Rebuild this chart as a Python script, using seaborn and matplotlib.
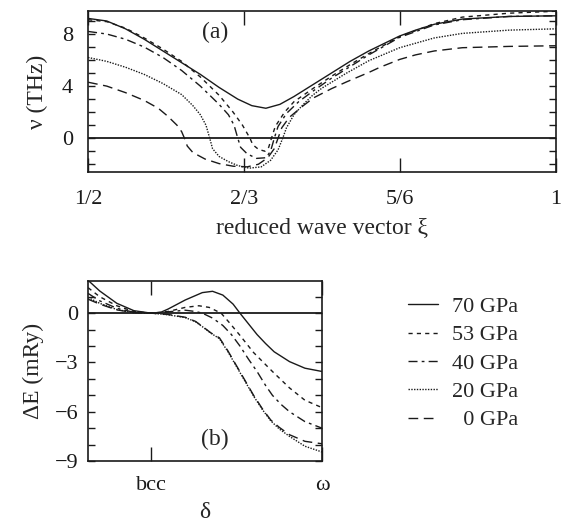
import numpy as np
import pandas as pd
import matplotlib
matplotlib.use('Agg')
import matplotlib.pyplot as plt
import seaborn as sns

# ---- data ----
pressures = ['70 GPa', '53 GPa', '40 GPa', '20 GPa', '0 GPa']

# (a) phonon dispersion nu(xi), negative = imaginary
xi_70 = [0.50, 0.52, 0.54, 0.56, 0.58, 0.60, 0.62, 0.64, 0.66, 0.675, 0.69, 0.705, 0.72, 0.74,
         0.76, 0.78, 0.80, 0.82, 0.833, 0.85, 0.87, 0.90, 0.95, 1.0]
nu_70 = [9.2, 9.0, 8.4, 7.6, 6.7, 5.8, 4.9, 3.9, 3.0, 2.5, 2.3, 2.6, 3.2, 4.1,
         5.0, 5.9, 6.7, 7.4, 7.85, 8.3, 8.75, 9.15, 9.35, 9.4]
xi_53 = [0.50, 0.52, 0.54, 0.56, 0.58, 0.60, 0.62, 0.64, 0.655, 0.665, 0.673, 0.676, 0.682, 0.689,
         0.693, 0.696, 0.70, 0.71, 0.72, 0.74, 0.76, 0.78, 0.80, 0.833, 0.87, 0.90, 0.95, 1.0]
nu_53 = [9.1, 8.95, 8.45, 7.7, 6.85, 5.9, 4.7, 3.3, 2.0, 1.0, 0.0, -0.5, -0.85, -1.0,
         -0.7, 0.0, 0.9, 2.0, 2.8, 3.8, 4.75, 5.65, 6.5, 7.8, 8.8, 9.3, 9.6, 9.75]
xi_40 = [0.50, 0.52, 0.54, 0.56, 0.58, 0.60, 0.62, 0.64, 0.65, 0.656, 0.660, 0.663, 0.67, 0.68,
         0.69, 0.695, 0.699, 0.703, 0.712, 0.725, 0.74, 0.76, 0.78, 0.80, 0.833, 0.87, 0.90, 0.95, 1.0]
nu_40 = [8.2, 8.0, 7.6, 7.0, 6.2, 5.2, 4.0, 2.6, 1.8, 1.0, 0.0, -0.7, -1.2, -1.55,
         -1.5, -1.0, 0.0, 0.9, 1.9, 2.8, 3.6, 4.6, 5.5, 6.4, 7.75, 8.7, 9.1, 9.35, 9.4]
xi_20 = [0.50, 0.52, 0.54, 0.56, 0.58, 0.60, 0.612, 0.62, 0.626, 0.630, 0.633, 0.64, 0.65, 0.66,
         0.672, 0.685, 0.695, 0.703, 0.708, 0.712, 0.72, 0.73, 0.74, 0.75, 0.775, 0.80, 0.833,
         0.87, 0.90, 0.95, 1.0]
nu_20 = [6.2, 5.9, 5.45, 4.9, 4.2, 3.35, 2.5, 1.8, 1.0, 0.0, -0.8, -1.4, -1.8, -2.1,
         -2.3, -2.2, -1.7, -0.9, 0.0, 0.8, 1.8, 2.6, 3.3, 3.85, 4.95, 5.95, 6.95,
         7.7, 8.05, 8.3, 8.4]
xi_0 = [0.50, 0.52, 0.54, 0.56, 0.575, 0.585, 0.595, 0.600, 0.603, 0.606, 0.612, 0.625, 0.64, 0.655,
        0.67, 0.682, 0.692, 0.699, 0.703, 0.707, 0.715, 0.73, 0.741, 0.76, 0.777, 0.80, 0.812,
        0.833, 0.85, 0.87, 0.90, 0.95, 1.0]
nu_0 = [4.3, 4.0, 3.5, 2.9, 2.3, 1.7, 1.0, 0.5, 0.0, -0.6, -1.1, -1.6, -1.95, -2.15,
        -2.2, -2.0, -1.5, -0.8, 0.0, 0.8, 1.6, 2.5, 3.1, 3.8, 4.35, 5.05, 5.45,
        6.05, 6.4, 6.7, 6.95, 7.05, 7.1]

# (b) energy along the omega path
d_70 = [-0.368, -0.3, -0.2, -0.1, 0.0, 0.05, 0.1, 0.2, 0.3, 0.36, 0.42, 0.48, 0.52, 0.57,
        0.62, 0.67, 0.72, 0.81, 0.9, 1.0]
e_70 = [2.0, 1.35, 0.6, 0.15, 0.0, 0.02, 0.25, 0.8, 1.25, 1.33, 1.1, 0.55, 0.0, -0.65,
        -1.3, -1.85, -2.35, -2.95, -3.35, -3.55]
d_53 = [-0.368, -0.3, -0.2, -0.1, 0.0, 0.1, 0.2, 0.28, 0.34, 0.41, 0.46, 0.52, 0.6, 0.71,
        0.81, 0.9, 1.0]
e_53 = [1.55, 1.0, 0.45, 0.1, 0.0, 0.1, 0.35, 0.45, 0.35, 0.0, -0.6, -1.35, -2.4, -3.55,
        -4.55, -5.3, -5.75]
d_40 = [-0.368, -0.3, -0.2, -0.1, 0.0, 0.1, 0.2, 0.26, 0.3, 0.36, 0.42, 0.47, 0.52, 0.57,
        0.62, 0.67, 0.71, 0.76, 0.81, 0.9, 1.0]
e_40 = [1.2, 0.75, 0.3, 0.05, 0.0, 0.08, 0.18, 0.1, 0.0, -0.3, -0.75, -1.3, -2.0, -2.8,
        -3.55, -4.4, -5.0, -5.55, -6.0, -6.6, -7.0]
d_20 = [-0.368, -0.3, -0.2, -0.1, 0.0, 0.1, 0.2, 0.26, 0.30, 0.35, 0.40, 0.45, 0.50, 0.55,
        0.60, 0.65, 0.70, 0.75, 0.81, 0.9, 1.0]
e_20 = [0.95, 0.6, 0.22, 0.03, 0.0, -0.1, -0.27, -0.52, -0.82, -1.22, -1.55, -2.35, -3.25, -4.15,
        -5.05, -5.85, -6.55, -7.05, -7.5, -8.1, -8.45]
d_0 = [-0.368, -0.3, -0.2, -0.1, 0.0, 0.1, 0.2, 0.26, 0.30, 0.35, 0.40, 0.45, 0.50, 0.55,
       0.60, 0.65, 0.70, 0.75, 0.81, 0.9, 1.0]
e_0 = [0.85, 0.55, 0.2, 0.03, 0.0, -0.08, -0.25, -0.5, -0.8, -1.2, -1.5, -2.3, -3.2, -4.1,
       -5.0, -5.8, -6.5, -6.95, -7.4, -7.8, -7.95]

xticks_a = [0.5, 2/3, 5/6, 1.0]
xlabels_a = ['1/2', '2/3', '5/6', '1']
xticks_b = [0.0, 1.0]
xlabels_b = ['bcc', 'ω']

# ---- tables ----
disp = pd.concat([
    pd.DataFrame({'xi': x, 'nu': y, 'p': p})
    for x, y, p in zip([xi_70, xi_53, xi_40, xi_20, xi_0],
                       [nu_70, nu_53, nu_40, nu_20, nu_0], pressures)])
ener = pd.concat([
    pd.DataFrame({'d': x, 'E': y, 'p': p})
    for x, y, p in zip([d_70, d_53, d_40, d_20, d_0],
                       [e_70, e_53, e_40, e_20, e_0], pressures)])

sns.set_theme(style='ticks')
plt.rcParams['font.family'] = ['Liberation Serif', 'DejaVu Serif']

dashes = {'70 GPa': '', '53 GPa': (3, 3), '40 GPa': (6.5, 3, 2, 3),
          '20 GPa': (1, 1), '0 GPa': (7, 4)}

fig = plt.figure(figsize=(5.61, 5.23), dpi=100)
ax1 = fig.add_axes([0.157, 0.671, 0.834, 0.308])
ax2 = fig.add_axes([0.157, 0.1185, 0.417, 0.344])

sns.lineplot(data=disp, x='xi', y='nu', style='p', style_order=pressures, dashes=dashes,
             color='k', lw=1.0, sort=False, estimator=None, ax=ax1, legend=False)
sns.lineplot(data=ener, x='d', y='E', style='p', style_order=pressures, dashes=dashes,
             color='k', lw=1.0, sort=False, estimator=None, ax=ax2, legend='full')

for ax in (ax1, ax2):
    ax.axhline(0, color='k', lw=1.3)
    for s in ax.spines.values():
        s.set_linewidth(1.2)
        s.set_color('k')
    ax.tick_params(direction='in', top=True, right=True, colors='k', width=1.0)

# panel (a)
ax1.set_xlim(0.5, 1.0)
ax1.set_ylim(-2.6, 9.77)
ax1.set_xticks(xticks_a)
ax1.set_xticklabels(xlabels_a, fontsize=16)
ax1.set_yticks(range(-2, 10))
ax1.set_yticklabels([str(v) if v in (0, 4, 8) else '' for v in range(-2, 10)], fontsize=16)
ax1.tick_params(axis='x', length=10, pad=13)
ax1.tick_params(axis='y', length=5, pad=11)
ax1.set_xlabel('reduced wave vector ξ', fontsize=17, labelpad=6)
ax1.set_ylabel('ν (THz)', fontsize=17, labelpad=10)
ax1.text(0.636, 8.1, '(a)', fontsize=17, ha='center', va='center')

# panel (b)
ax2.set_xlim(-0.368, 1.0)
ax2.set_ylim(-9, 1.95)
ax2.set_xticks(xticks_b)
ax2.set_xticklabels(xlabels_b, fontsize=16)
ax2.set_yticks(range(-9, 2))
ax2.set_yticklabels(['−' + str(-v) if v < 0 and v % 3 == 0 else ('0' if v == 0 else '')
                     for v in range(-9, 2)], fontsize=16)
ax2.tick_params(axis='x', length=10, pad=11)
ax2.tick_params(axis='y', length=5, pad=7)
ax2.set_xlabel('δ', fontsize=17, labelpad=5)
ax2.set_ylabel('ΔE (mRy)', fontsize=17, labelpad=8)
ax2.text(0.374, -7.7, '(b)', fontsize=17, ha='center', va='center')

handles, labels = ax2.get_legend_handles_labels()
ax2.legend_.remove()
labels = [l if l != '0 GPa' else '  0 GPa' for l in labels]
fig.legend(handles, labels, loc='upper left', bbox_to_anchor=(0.727, 0.433),
           frameon=False, fontsize=16, handlelength=1.35, handletextpad=0.65,
           labelspacing=0.35, borderpad=0, borderaxespad=0)

fig.savefig('out.png', dpi=100)
